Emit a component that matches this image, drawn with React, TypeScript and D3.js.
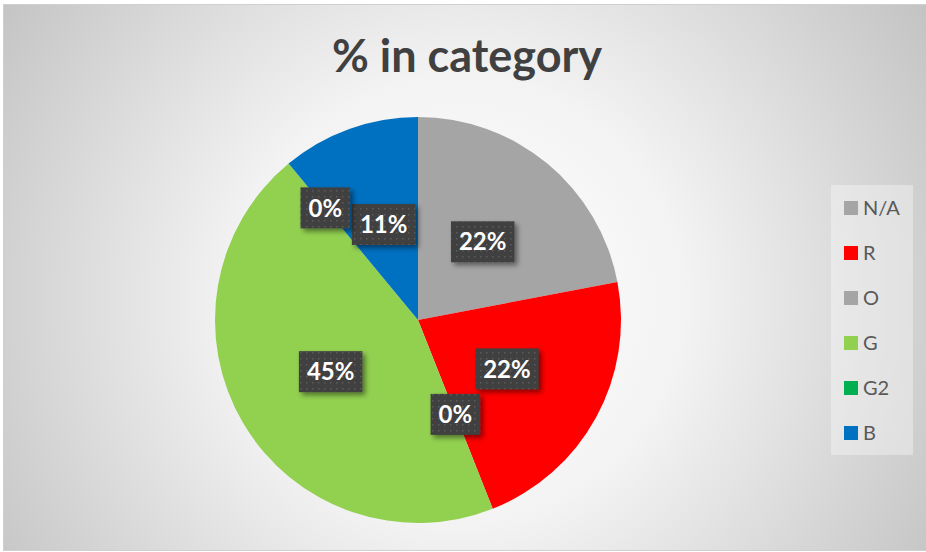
import { useRef, useEffect } from 'react';
import * as d3 from 'd3';

const categories = ['N/A', 'R', 'O', 'G', 'G2', 'B'];
const percents = [22, 22, 0, 45, 0, 11];
const colors = ['#a5a5a5', '#ff0000', '#a5a5a5', '#92d050', '#00b050', '#0070c0'];
const title = '% in category';

const W = 926;
const H = 552;

export default function App() {
  const ref = useRef<SVGSVGElement | null>(null);

  useEffect(() => {
    if (!ref.current) return;
    const svg = d3.select(ref.current);
    svg.selectAll('*').remove();

    const defs = svg.append('defs');
    const bg = defs
      .append('radialGradient')
      .attr('id', 'bg')
      .attr('gradientUnits', 'userSpaceOnUse')
      .attr('cx', 460)
      .attr('cy', 300)
      .attr('r', 560);
    bg.append('stop').attr('offset', 0).attr('stop-color', '#ffffff');
    bg.append('stop').attr('offset', 0.4).attr('stop-color', '#f3f3f3');
    bg.append('stop').attr('offset', 1).attr('stop-color', '#c2c2c2');

    const pat = defs
      .append('pattern')
      .attr('id', 'dots')
      .attr('patternUnits', 'userSpaceOnUse')
      .attr('width', 6)
      .attr('height', 6);
    pat.append('rect').attr('width', 6).attr('height', 6).attr('fill', '#404040');
    pat.append('rect').attr('x', 2).attr('y', 2).attr('width', 1.5).attr('height', 1.5).attr('fill', '#5c5c5c');

    const shadow = defs
      .append('filter')
      .attr('id', 'shadow')
      .attr('x', '-30%')
      .attr('y', '-30%')
      .attr('width', '160%')
      .attr('height', '160%');
    shadow
      .append('feDropShadow')
      .attr('dx', 3)
      .attr('dy', 3)
      .attr('stdDeviation', 2.5)
      .attr('flood-color', '#000')
      .attr('flood-opacity', 0.45);

    // frame
    svg
      .append('rect')
      .attr('x', 3.5)
      .attr('y', 4.5)
      .attr('width', 924)
      .attr('height', 546)
      .attr('fill', 'url(#bg)')
      .attr('stroke', '#d0d0d0');

    svg
      .append('text')
      .attr('x', 467)
      .attr('y', 72)
      .attr('text-anchor', 'middle')
      .attr('font-family', 'Lato, "Open Sans", sans-serif')
      .attr('font-weight', 'bold')
      .attr('font-size', 45)
      .attr('fill', '#404040')
      .text(title);

    // pie
    const cx = 418;
    const cy = 320;
    const radius = 203;
    const data = categories.map((c, i) => ({ cat: c, value: percents[i], color: colors[i] }));
    const pie = d3
      .pie<{ cat: string; value: number; color: string }>()
      .sort(null)
      .value((d) => d.value);
    const arcs = pie(data);
    const arc = d3
      .arc<d3.PieArcDatum<{ cat: string; value: number; color: string }>>()
      .innerRadius(0)
      .outerRadius(radius);

    const g = svg.append('g').attr('transform', `translate(${cx},${cy})`);
    g.selectAll('path')
      .data(arcs)
      .enter()
      .append('path')
      .attr('d', arc)
      .attr('fill', (d) => d.data.color);

    // labels: non-zero slices first, zero slices pushed out if they collide
    const total = d3.sum(percents);
    const order = arcs
      .map((a, i) => i)
      .sort((a, b) => (arcs[a].value === 0 ? 1 : 0) - (arcs[b].value === 0 ? 1 : 0));
    const placed: { x0: number; x1: number; y0: number; y1: number }[] = [];
    const gap = 1;
    order.forEach((i) => {
      const a = arcs[i];
      const label = Math.round((a.value / total) * 100) + '%';
      const lg = g.append('g');
      const box = lg.append('rect').attr('fill', 'url(#dots)').attr('filter', 'url(#shadow)');
      const txt = lg
        .append('text')
        .attr('text-anchor', 'middle')
        .attr('dy', '0.36em')
        .attr('font-family', 'Lato, "Open Sans", sans-serif')
        .attr('font-weight', 'bold')
        .attr('font-size', 24)
        .attr('fill', '#ffffff')
        .text(label);
      const tw = (txt.node() as SVGTextElement).getComputedTextLength();
      const bw = tw + 16;
      const bh = 41;
      const mid = (a.startAngle + a.endAngle) / 2;
      let r = radius / 2;
      let x = 0;
      let y = 0;
      for (let k = 0; k < 100; k++) {
        x = Math.sin(mid) * r;
        y = -Math.cos(mid) * r;
        const b = { x0: x - bw / 2, x1: x + bw / 2, y0: y - bh / 2, y1: y + bh / 2 };
        const hit = placed.some(
          (p) => b.x0 < p.x1 + gap && b.x1 > p.x0 - gap && b.y0 < p.y1 + gap && b.y1 > p.y0 - gap
        );
        if (!hit) {
          placed.push(b);
          break;
        }
        r += 2;
      }
      box
        .attr('x', x - bw / 2)
        .attr('y', y - bh / 2)
        .attr('width', bw)
        .attr('height', bh);
      txt.attr('x', x).attr('y', y);
    });

    // legend
    svg
      .append('rect')
      .attr('x', 831)
      .attr('y', 185)
      .attr('width', 82)
      .attr('height', 270)
      .attr('fill', '#ffffff')
      .attr('fill-opacity', 0.35);

    const legendY = d3
      .scalePoint<string>()
      .domain(categories)
      .range([208, 433]);
    const items = svg
      .selectAll('.legend-item')
      .data(data)
      .enter()
      .append('g')
      .classed('legend-item', true)
      .attr('transform', (d) => `translate(844, ${legendY(d.cat)})`);
    items
      .append('rect')
      .attr('x', 0)
      .attr('y', -7)
      .attr('width', 14)
      .attr('height', 14)
      .attr('fill', (d) => d.color);
    items
      .append('text')
      .attr('x', 19)
      .attr('dy', '0.36em')
      .attr('font-family', 'Lato, "Open Sans", sans-serif')
      .attr('font-size', 20)
      .attr('fill', '#595959')
      .text((d) => d.cat);
  }, []);

  return (
    <svg
      ref={ref}
      width={W}
      height={H}
      style={{ position: 'absolute', left: 0, top: 0, background: '#ffffff' }}
    />
  );
}
